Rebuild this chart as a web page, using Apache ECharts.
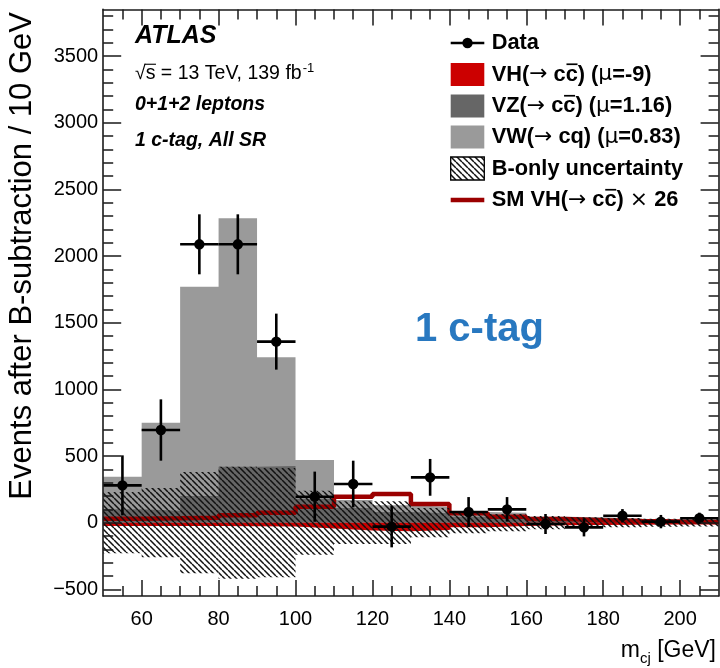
<!DOCTYPE html>
<html><head><meta charset="utf-8">
<script src="https://cdn.jsdelivr.net/npm/echarts@6/dist/echarts.min.js"></script>
<style>html,body{margin:0;padding:0;background:#fff}#c{width:720px;height:668px}</style>
</head><body><div id="c"></div>
<script>
// ---------------- data ----------------
const binEdges   = [50,60,70,80,90,100,110,120,130,140,150,160,170,180,190,200,210];
const binCenters = [55,65,75,85,95,105,115,125,135,145,155,165,175,185,195,205];
const dataValues = [280,695,2088,2088,1358,195,290,-30,340,80,100,-10,-35,52,8,33];
const dataErrors = [225,230,225,225,210,188,175,155,138,112,92,75,68,50,50,42];
const vhFit      = [-15,-15,-15,-18,-20,-35,-50,-55,-45,-25,-15,-10,-8,-6,-5,-5];     // VH(->cc) mu=-9
const vzFit      = [115,105,215,438,445,215,160,135,115,70,55,35,28,21,15,13];        // VZ(->cc) mu=1.16
const vwFit      = [245,660,1570,1863,815,290,60,50,50,35,35,20,20,15,10,7];          // VW(->cq) mu=0.83
const bUnc       = [230,260,380,420,410,240,160,160,110,80,65,50,40,35,30,28];        // B-only uncertainty
const smVH26     = [30,33,37,55,75,120,195,215,140,70,45,28,18,12,8,6];               // SM VH(->cc) x 26
const xTickLabels = [60,80,100,120,140,160,180,200];
const yTickLabels = [-500,0,500,1000,1500,2000,2500,3000,3500];
const xRange = [50,210], yRange = [-550,3850];
const xMinorStep = 5, yMinorStep = 100, yMinorTop = 3800;
const legendLabels = ['Data','VH(→ cc) (μ=-9)','VZ(→ cc) (μ=1.16)','VW(→ cq) (μ=0.83)','B-only uncertainty','SM VH(→ cc) × 26'];

// ---------------- layout ----------------
const FONT = '"Liberation Sans", Arial, Helvetica, sans-serif';
const SYM = '"DejaVu Sans", sans-serif';
const PL = 103.2, PR = 718.6, PT = 9.4, PB = 596.0;
const px = v => PL + (v - xRange[0]) / (xRange[1] - xRange[0]) * (PR - PL);
const py = v => PB - (v - yRange[0]) / (yRange[1] - yRange[0]) * (PB - PT);
const mctx = document.createElement('canvas').getContext('2d');
function tw(t, size, weight, style, fam){ mctx.font = (style||'normal')+' '+(weight||'normal')+' '+size+'px '+(fam||FONT); return mctx.measureText(t).width; }

// hatch pattern
const pc = document.createElement('canvas'); pc.width = 6; pc.height = 6;
const pg = pc.getContext('2d'); pg.strokeStyle = '#111'; pg.lineWidth = 1.5; pg.beginPath();
[-6,0,6].forEach(k => { pg.moveTo(k,0); pg.lineTo(k+6,6); }); pg.stroke();
const hatch = {image: pc, repeat: 'repeat'};

// derived series
const stepData = arr => binEdges.map((e,i) => [e, arr[Math.min(i, arr.length-1)]]);
const midStack = vhFit.map((v,i) => v + vzFit[i]);
const totStack = midStack.map((v,i) => v + vwFit[i]);
const halfW = binCenters.map((c,i) => (binEdges[i+1]-binEdges[i])/2);

const C_RED = '#cc0000', C_SM = '#9b0000', C_DARK = '#666666', C_LIGHT = '#9a9a9a';

function gridAt(l, r, t, b){ return {left:l, top:t, width:r-l, height:b-t, outerBoundsMode:'none', containLabel:false}; }
const hidden = (gi) => ({type:'value', gridIndex:gi, show:false, min:0, max:1});
const lineCol = '#1a1a1a';

const grids = [
  gridAt(PL, PR, PT, PB),
  gridAt(px(xTickLabels[0]), px(xTickLabels[xTickLabels.length-1]), PT, PB),
  gridAt(px(xRange[0]+xMinorStep), px(xRange[1]-xMinorStep), PT, PB),
  gridAt(PL, PR, py(yTickLabels[yTickLabels.length-1]), py(yTickLabels[0])),
  gridAt(PL, PR, py(yMinorTop), py(yTickLabels[0]))
];
const frameAxis = (pos, gi, mn, mx) => ({type:'value', gridIndex:gi, position:pos, min:mn, max:mx, z:20,
  axisLine:{show:true, onZero:false, lineStyle:{color:lineCol, width:1.6}}, axisTick:{show:false}, axisLabel:{show:false}, splitLine:{show:false}});
const tickAxis = (pos, gi, mn, mx, iv, len, labels) => ({type:'value', gridIndex:gi, position:pos, min:mn, max:mx, interval:iv, z:20,
  axisLine:{show:false, onZero:false}, splitLine:{show:false}, minorTick:{show:false},
  axisTick:{show:true, inside:true, length:len, lineStyle:{color:lineCol, width:1.5}},
  axisLabel: labels ? Object.assign({show:true, color:'#000', fontSize:20, fontFamily:FONT}, labels) : {show:false}});

const xAxes = [
  frameAxis('bottom',0,xRange[0],xRange[1]), frameAxis('top',0,xRange[0],xRange[1]),
  tickAxis('bottom',1,xTickLabels[0],xTickLabels[xTickLabels.length-1],xTickLabels[1]-xTickLabels[0],16,{margin:13}),
  tickAxis('top',1,xTickLabels[0],xTickLabels[xTickLabels.length-1],xTickLabels[1]-xTickLabels[0],16,null),
  tickAxis('bottom',2,xRange[0]+xMinorStep,xRange[1]-xMinorStep,xMinorStep,10,null),
  tickAxis('top',2,xRange[0]+xMinorStep,xRange[1]-xMinorStep,xMinorStep,10,null),
  hidden(3), hidden(4)
];
const yAxes = [
  frameAxis('left',0,yRange[0],yRange[1]), frameAxis('right',0,yRange[0],yRange[1]),
  hidden(1), hidden(2),
  tickAxis('left',3,yTickLabels[0],yTickLabels[yTickLabels.length-1],yTickLabels[1]-yTickLabels[0],18,{margin:5, formatter: v => String(v).replace('-','\u2212')}),
  tickAxis('right',3,yTickLabels[0],yTickLabels[yTickLabels.length-1],yTickLabels[1]-yTickLabels[0],18,null),
  tickAxis('left',4,yTickLabels[0],yMinorTop,yMinorStep,10,null),
  tickAxis('right',4,yTickLabels[0],yMinorTop,yMinorStep,10,null)
];

const areaSeries = (arr, color, z, lw) => ({type:'line', xAxisIndex:0, yAxisIndex:0, step:'end', data:stepData(arr),
  showSymbol:false, symbol:'none', silent:true, z:z, lineStyle:{width:lw||0, color:color}, areaStyle:{color:color, opacity:1}});

const series = [
  areaSeries(totStack, C_LIGHT, 1),
  areaSeries(midStack, C_DARK, 2),
  areaSeries(vhFit, C_RED, 3, 2.5),
  {type:'line', xAxisIndex:0, yAxisIndex:0, step:'end', data:stepData(smVH26), showSymbol:false, symbol:'none', silent:true, z:4,
    lineStyle:{width:4.5, color:C_SM}},
  {type:'custom', xAxisIndex:0, yAxisIndex:0, z:5, silent:true,
    data: binCenters.map((c,i) => [binEdges[i], binEdges[i+1], -bUnc[i], bUnc[i]]),
    encode:{x:[0,1], y:[2,3]},
    renderItem: (params, api) => {
      const a = api.coord([api.value(0), api.value(3)]), b = api.coord([api.value(1), api.value(2)]);
      return {type:'rect', shape:{x:a[0], y:a[1], width:b[0]-a[0], height:b[1]-a[1]}, style:{fill:hatch}};
    }},
  {type:'custom', xAxisIndex:0, yAxisIndex:0, z:10, silent:true,
    data: binCenters.map((c,i) => [c, dataValues[i], dataErrors[i], halfW[i]]),
    encode:{x:0, y:1},
    renderItem: (params, api) => {
      const x = api.value(0), y = api.value(1), e = api.value(2), h = api.value(3);
      const c = api.coord([x,y]), t = api.coord([x,y+e]), b = api.coord([x,y-e]);
      const l = api.coord([x-h,y]), r = api.coord([x+h,y]);
      const st = {stroke:'#000', lineWidth:2.6};
      return {type:'group', children:[
        {type:'line', shape:{x1:c[0], y1:t[1], x2:c[0], y2:b[1]}, style:st},
        {type:'line', shape:{x1:l[0], y1:c[1], x2:r[0], y2:c[1]}, style:st},
        {type:'circle', shape:{cx:c[0], cy:c[1], r:5.2}, style:{fill:'#000'}}
      ]};
    }}
];

// ---------------- annotations / legend (graphic) ----------------
const G = [];
function T(text, x, y, o){ G.push({type:'text', z:100, silent:true, style:Object.assign({text:text, x:x, y:y, fill:'#000', fontSize:20, fontFamily:FONT, fontWeight:'normal', fontStyle:'normal', align:'left', verticalAlign:'middle'}, o||{})}); }
function L(x1,y1,x2,y2,w,c){ G.push({type:'line', z:100, silent:true, shape:{x1:x1,y1:y1,x2:x2,y2:y2}, style:{stroke:c||'#000', lineWidth:w}}); }

// ATLAS block
T('ATLAS', 135, 36.5, {fontSize:25, fontWeight:'bold', fontStyle:'italic'});
const sFs = 19.5;
const sqrtTxt = '√s = 13 TeV, 139 fb';
T(sqrtTxt, 135, 74, {fontSize:sFs});
{ const wr = tw('√', sFs), ws = tw('√s', sFs); L(135+wr-1.2, 74-0.5*sFs, 135+ws+0.5, 74-0.5*sFs, 1.1);
  T('-1', 135+tw(sqrtTxt, sFs)+1, 68, {fontSize:13}); }
T('0+1+2 leptons', 135, 105, {fontSize:sFs, fontWeight:'bold', fontStyle:'italic'});
T('1 c-tag, All SR', 135, 140.5, {fontSize:sFs, fontWeight:'bold', fontStyle:'italic'});

// big blue label
T('1 c-tag', 415, 330, {fontSize:40, fontWeight:'bold', fill:'#2878c0'});

// axis titles
G.push({type:'text', z:100, silent:true, x:22, y:12, rotation:Math.PI/2,
  style:{text:'Events after B-subtraction / 10 GeV', x:0, y:0, fill:'#000', fontSize:31, fontFamily:FONT, align:'right', verticalAlign:'middle'}});
{ const fs = 23, sfs = 15, xr = 716, yb = 651;
  const w3 = tw(' [GeV]', fs), w2 = tw('cj', sfs), w1 = tw('m', fs);
  T(' [GeV]', xr - w3, yb, {fontSize:fs});
  T('cj', xr - w3 - w2, yb + 8, {fontSize:sfs});
  T('m', xr - w3 - w2 - w1, yb, {fontSize:fs}); }

// legend
const LX0 = 450.7, LX1 = 484.3, LTX = 491.7, LFS = 21.8;
const legendY = [43, 74.5, 106, 137, 168.5, 200];
const legendKinds = [{k:'data'},{k:'box',c:C_RED},{k:'box',c:C_DARK},{k:'box',c:C_LIGHT},{k:'hatch'},{k:'line',c:C_SM}];
function labelSegs(lab){
  const segs = []; let cur = '';
  const flush = () => { if (cur) { segs.push({t:cur, w:'bold', f:FONT}); cur = ''; } };
  for (let i = 0; i < lab.length; i++) {
    const ch = lab[i];
    if (ch === '→' || ch === 'μ' || ch === '×') { flush(); segs.push({t:ch, w:'normal', f:SYM}); }
    else if (ch === 'c' && lab[i-1] === 'c' && lab[i+1] === ')') { flush(); segs.push({t:ch, w:'bold', f:FONT, ol:true}); }
    else cur += ch;
  }
  flush(); return segs;
}
legendLabels.forEach((lab,i) => {
  const y = legendY[i], kd = legendKinds[i];
  if (kd.k === 'data') { L(LX0, y, LX1, y, 2.6); G.push({type:'circle', z:100, silent:true, shape:{cx:(LX0+LX1)/2, cy:y, r:5.2}, style:{fill:'#000'}}); }
  else if (kd.k === 'box') G.push({type:'rect', z:100, silent:true, shape:{x:LX0, y:y-11.5, width:LX1-LX0, height:23}, style:{fill:kd.c}});
  else if (kd.k === 'hatch') G.push({type:'rect', z:100, silent:true, shape:{x:LX0, y:y-11.5, width:LX1-LX0, height:23}, style:{fill:hatch, stroke:'#000', lineWidth:1.3}});
  else L(LX0, y, LX1, y, 4.7, kd.c);
  let cx = LTX;
  labelSegs(lab).forEach(s => {
    T(s.t, cx, y, {fontSize:LFS, fontWeight:s.w, fontFamily:s.f});
    const w = tw(s.t, LFS, s.w, 'normal', s.f);
    if (s.ol) L(cx + 0.8, y - 0.47*LFS, cx + w - 0.3, y - 0.47*LFS, 1.7);
    cx += w;
  });
});

const chart = echarts.init(document.getElementById('c'), null, {renderer:'canvas'});
chart.setOption({
  animation:false, backgroundColor:'#fff',
  grid: grids, xAxis: xAxes, yAxis: yAxes, series: series, graphic: G
});
</script></body></html>
